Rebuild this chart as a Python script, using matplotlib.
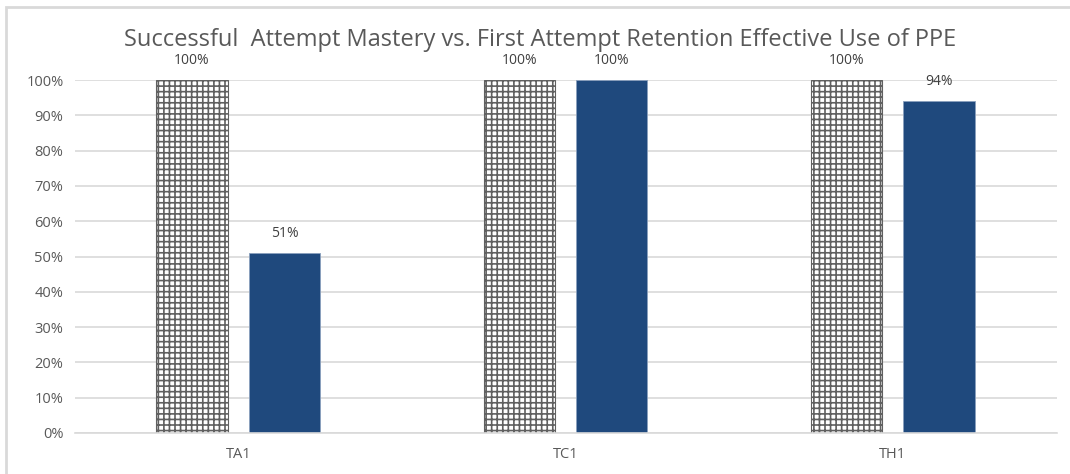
import matplotlib.pyplot as plt
import numpy as np
from matplotlib.patches import Rectangle

plt.rcParams['font.family'] = ['Open Sans', 'DejaVu Sans']
plt.rcParams['hatch.linewidth'] = 1.2

categories = ['TA1', 'TC1', 'TH1']
mastery = [100, 100, 100]
retention = [51, 100, 94]

fig = plt.figure(figsize=(10.70, 4.74), dpi=100)
ax = fig.add_axes([0.0697, 0.0865, 0.9177, 0.7445])

x = np.arange(len(categories))
w = 0.218
off = 0.141

ax.bar(x - off, mastery, w, color='white', edgecolor='#606060', hatch='+++', linewidth=0.8, zorder=2)
ax.bar(x + off, retention, w, color='#1f497d', edgecolor='#8aa0bd', linewidth=0.6, zorder=2)

for xi, v in zip(x - off, mastery):
    ax.text(xi, v + 3.5, f'{v}%', ha='center', va='bottom', fontsize=10, color='#404040')
for xi, v in zip(x + off, retention):
    ax.text(xi, v + 3.5, f'{v}%', ha='center', va='bottom', fontsize=10, color='#404040')

ax.set_xlim(-0.5, 2.5)
ax.set_ylim(0, 100)
ax.set_yticks(range(0, 101, 10))
ax.set_yticklabels([f'{t}%' for t in range(0, 101, 10)], fontsize=10.5, color='#595959')
ax.set_xticks(x)
ax.set_xticklabels(categories, fontsize=10.5, color='#595959')
ax.tick_params(axis='x', length=0, pad=10)
ax.tick_params(axis='y', length=0, pad=8)
ax.yaxis.grid(True, color='#d9d9d9', linewidth=1.2, zorder=0)
ax.set_axisbelow(True)
for s in ['top', 'right', 'left']:
    ax.spines[s].set_visible(False)
ax.spines['bottom'].set_color('#d9d9d9')
ax.spines['bottom'].set_linewidth(1.2)

fig.text(0.505, 0.915, 'Successful  Attempt Mastery vs. First Attempt Retention Effective Use of PPE',
         ha='center', va='center', fontsize=17, color='#595959')

fig.patches.append(Rectangle((0.006, -0.01), 1.1, 0.996, transform=fig.transFigure,
                             fill=False, edgecolor='#d9d9d9', linewidth=2))

fig.savefig('out.png', dpi=100)
